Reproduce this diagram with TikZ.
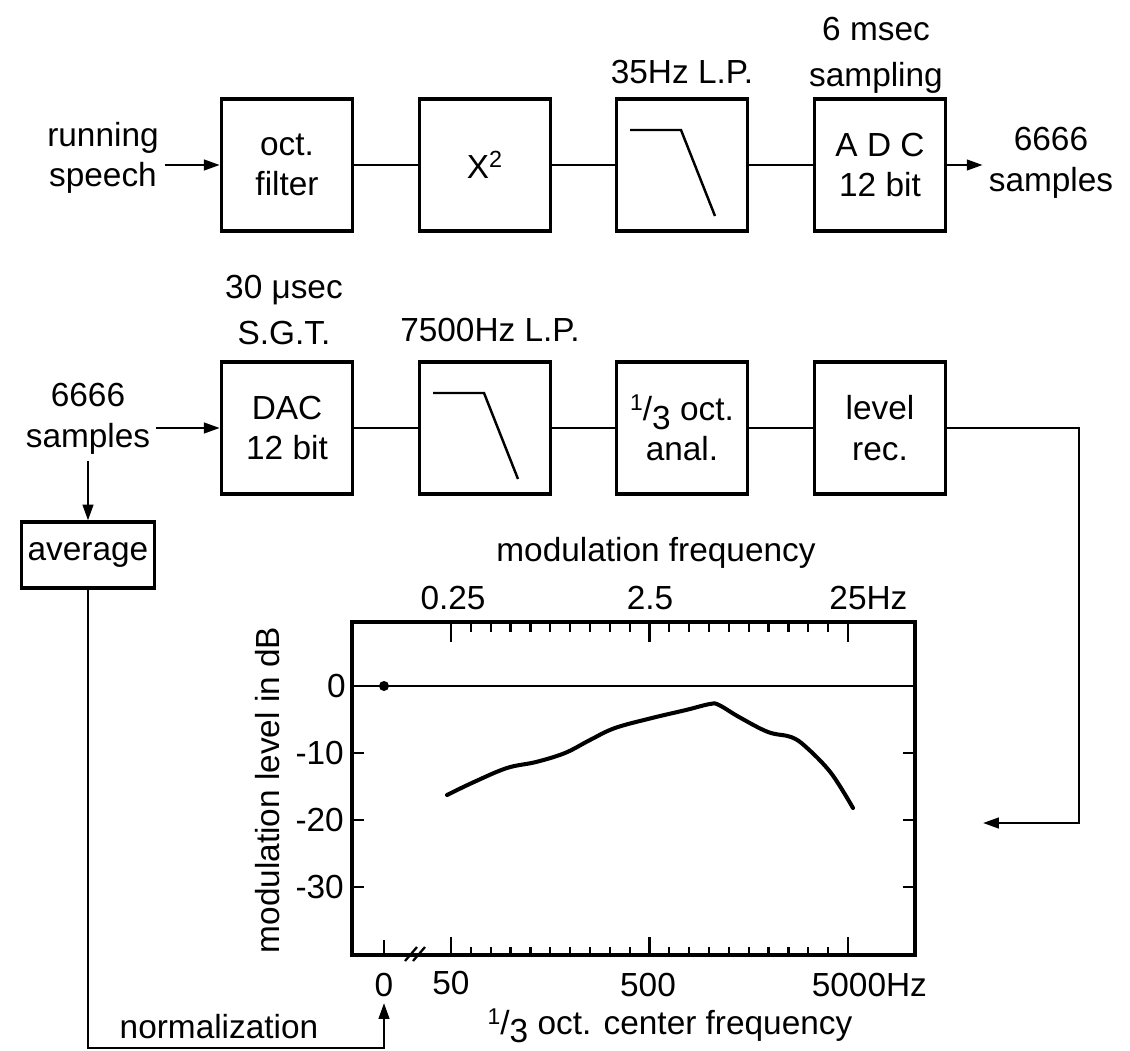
\documentclass[tikz,border=0pt]{standalone}
\usepackage{fontspec}
\setmainfont{Liberation Sans}
\usetikzlibrary{arrows.meta}

\newcommand{\onethird}{\raisebox{0.55ex}{\fontsize{13}{13}\selectfont 1}/\raisebox{-0.5ex}{3}}

\tikzset{
  block/.style={draw, line width=2pt, minimum width=2.62cm, minimum height=2.64cm, align=center, inner sep=0pt},
  wire/.style={line width=1.4pt},
  flow/.style={line width=1.4pt, -{Triangle[length=9pt,width=6pt]}},
  axis/.style={line width=1.8pt},
  tick/.style={line width=1.3pt},
}

\begin{document}
\begin{tikzpicture}[x=0.02cm, y=-0.02cm, font=\fontsize{19}{23}\selectfont]
  \useasboundingbox (0,0) rectangle (1130,1051);

  % first row: recording
  \node[block] (filt) at (287,165) {oct.\\filter};
  \node[block] (sq) at (485,165) {X\textsuperscript{2}};
  \node[block] (lp1) at (682,165) {};
  \node[block] (adc) at (880,165) {A D C\\12 bit};
  \node[align=center] (run) at (103,158) {running\\speech};
  \node[align=center] (out1) at (1051,163) {6666\\samples};
  \node (lp1lab) at (682,72) {35Hz L.P.};
  \node[align=center] (adclab) at (876,55) {6 msec\\[3pt]sampling};

  \draw[flow] (run.east |- filt) -- (filt);
  \draw[wire] (filt) -- (sq);
  \draw[wire] (sq) -- (lp1);
  \draw[wire] (lp1) -- (adc);
  \draw[flow] (adc) -- (out1.west |- adc);

  % second row: playback
  \node[block] (dac) at (287,428) {DAC\\12 bit};
  \node[block] (lp2) at (485,428) {};
  \node[block] (third) at (682,428) {\onethird{} oct.\\anal.};
  \node[block] (lrec) at (880,428) {level\\rec.};
  \node[align=center] (in2) at (88,419) {6666\\samples};
  \node[align=center] (daclab) at (284,310) {30 μsec\\[3pt]S.G.T.};
  \node (lp2lab) at (490,330) {7500Hz L.P.};
  \node[draw, line width=1.8pt, minimum width=2.66cm, minimum height=1.32cm] (avg) at (88,555) {average};

  \draw[flow] (in2.east |- dac) -- (dac);
  \draw[wire] (dac) -- (lp2);
  \draw[wire] (lp2) -- (third);
  \draw[wire] (third) -- (lrec);
  \draw[flow] (in2) -- (avg);

  % low pass symbols
  \foreach \b in {lp1,lp2}
    \draw[wire] ([shift={(-52,-35)}]\b.center) -- ++(51,0) -- ++(34,86);

  % plot
  \draw[axis] (352,622) rectangle (915,955);
  \draw[wire] (352,686) -- (915,686);
  \fill (384,686) circle[radius=0.1cm];
  \node[left] at (352,686) {0};
  \foreach \v in {10,20,30} {
    \draw[tick] (352,{686+\v*6.7}) -- ++(12,0);
    \draw[tick] (915,{686+\v*6.7}) -- ++(-12,0);
    \node[left] at (350,{686+\v*6.7}) {-\v};
  }
  \foreach \i in {0,...,20} {
    \draw[tick] ({451+\i*19.85},622) -- ++(0,10);
    \draw[tick] ({451+\i*19.85},955) -- ++(0,-8);
  }
  \foreach \i in {0,10,20} {
    \draw[tick] ({451+\i*19.85},622) -- ++(0,20);
    \draw[tick] ({451+\i*19.85},955) -- ++(0,-18);
  }
  \draw[tick] (384,955) -- ++(0,-15);
  \draw[tick] (405,961) -- (417,947) (413,961) -- (425,947);

  \node at (453,598) {0.25};
  \node at (650,598) {2.5};
  \node at (848,598) {25\rlap{Hz}};
  \node at (656,553) {modulation frequency};
  \node (x0) at (384,985) {0};
  \node at (451,983) {50};
  \node at (648,985) {500};
  \node at (849,985) {5000\rlap{Hz}};
  \node at (670,1026) {\onethird{} oct. center frequency};
  \node[rotate=90] at (268,790) {modulation level in dB};

  \draw[line width=2.3pt, line join=round, line cap=round] plot[smooth, tension=0.6] coordinates {
    (447,795) (474,782) (507,768) (536,762) (565,753) (590,740) (615,728)
    (652,718) (686,710) (710,704) (719,705) (739,717) (768,732) (791,737)
    (806,747) (831,773) (853,808)};

  % return path to the plot and normalization
  \coordinate (recin) at (983,823);
  \draw[flow] (lrec.east) -- ++(132,0) |- (recin);
  \coordinate (normcorner) at (88,1048);
  \draw[flow] (avg.south) -- (normcorner) -| (x0.south);
  \node (normlab) at (219,1027) {normalization};
\end{tikzpicture}
\end{document}
